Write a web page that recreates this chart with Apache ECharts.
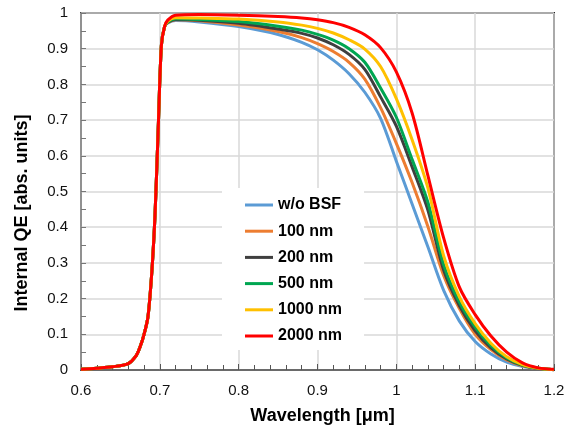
<!DOCTYPE html>
<html>
<head>
<meta charset="utf-8">
<script src="https://cdn.jsdelivr.net/npm/echarts@6/dist/echarts.min.js"></script>
<style>html,body{margin:0;padding:0;background:#fff;}#c{width:575px;height:428px;}</style>
</head>
<body>
<div id="c"></div>
<script>
const wavelength = [0.60, 0.62, 0.64, 0.66, 0.67, 0.675, 0.68, 0.685, 0.69, 0.694, 0.698, 0.702, 0.706,
  0.71, 0.72, 0.75, 0.80, 0.85, 0.88, 0.90, 0.92, 0.94, 0.96, 0.98, 1.00, 1.02, 1.04, 1.06, 1.08, 1.10, 1.12, 1.14, 1.16, 1.18, 1.20];
const riseEdge = [0.002, 0.005, 0.009, 0.018, 0.04, 0.065, 0.10, 0.15, 0.28, 0.44, 0.68, 0.91, 0.962];
const qeNoBSF = [0.972, 0.979, 0.975, 0.962, 0.940, 0.918, 0.897, 0.868, 0.830, 0.778, 0.705, 0.585, 0.465, 0.345, 0.223, 0.137, 0.080, 0.045, 0.022, 0.010, 0.004, 0.001];
const qe100 = [0.973, 0.981, 0.978, 0.966, 0.948, 0.931, 0.914, 0.892, 0.862, 0.815, 0.735, 0.635, 0.525, 0.402, 0.265, 0.172, 0.100, 0.057, 0.028, 0.012, 0.004, 0.001];
const qe200 = [0.974, 0.982, 0.980, 0.971, 0.955, 0.943, 0.930, 0.911, 0.884, 0.842, 0.765, 0.683, 0.569, 0.448, 0.280, 0.180, 0.110, 0.062, 0.031, 0.013, 0.004, 0.001];
const qe500 = [0.975, 0.984, 0.982, 0.976, 0.963, 0.952, 0.940, 0.924, 0.900, 0.862, 0.790, 0.708, 0.590, 0.470, 0.295, 0.190, 0.120, 0.068, 0.034, 0.014, 0.005, 0.001];
const qe1000 = [0.977, 0.987, 0.986, 0.983, 0.975, 0.966, 0.957, 0.944, 0.925, 0.899, 0.850, 0.760, 0.645, 0.510, 0.320, 0.205, 0.130, 0.075, 0.037, 0.015, 0.005, 0.001];
const qe2000 = [0.980, 0.994, 0.996, 0.994, 0.990, 0.986, 0.981, 0.973, 0.960, 0.939, 0.903, 0.835, 0.720, 0.545, 0.370, 0.232, 0.155, 0.095, 0.050, 0.020, 0.006, 0.002];
const seriesNames = ['w/o BSF', '100 nm', '200 nm', '500 nm', '1000 nm', '2000 nm'];
const seriesColors = ['#5B9BD5', '#ED7D31', '#3F3F3F', '#00A651', '#FFC000', '#FF0000'];
const seriesTails = [qeNoBSF, qe100, qe200, qe500, qe1000, qe2000];
const xTicks = [0.6, 0.7, 0.8, 0.9, 1, 1.1, 1.2];

const FONT = 'Liberation Sans, Arial, sans-serif';
const chart = echarts.init(document.getElementById('c'), null, {renderer: 'canvas'});

const series = seriesNames.map((name, i) => {
  const ys = riseEdge.concat(seriesTails[i]);
  return {
    name: name,
    type: 'line',
    data: wavelength.map((x, k) => [x, ys[k]]),
    symbol: 'none',
    smooth: 0.3,
    clip: true,
    lineStyle: {color: seriesColors[i], width: 3},
    itemStyle: {color: seriesColors[i]},
    z: 2 + i
  };
});

chart.setOption({
  animation: false,
  backgroundColor: '#fff',
  grid: {left: 81, right: 21, top: 13, bottom: 58, outerBoundsMode: 'none', containLabel: false,
    show: true, borderColor: '#222', borderWidth: 2, backgroundColor: 'transparent'},
  legend: {
    data: seriesNames,
    orient: 'vertical',
    left: 222, top: 188,
    padding: [9, 22, 6, 23],
    backgroundColor: '#fff',
    icon: 'rect',
    itemWidth: 28, itemHeight: 3, itemGap: 10.2,
    textStyle: {fontFamily: FONT, fontSize: 16, fontWeight: 'bold', color: '#000'},
    z: 10
  },
  xAxis: {
    type: 'value', min: 0.6, max: 1.2, interval: 0.1,
    axisLine: {show: true, lineStyle: {color: '#555', width: 1.5}},
    axisTick: {show: true, inside: true, length: 6, lineStyle: {color: '#555'}},
    minorTick: {show: true, splitNumber: 5, length: 5, lineStyle: {color: '#555'}},
    splitLine: {show: true, lineStyle: {color: '#d9d9d9', width: 1.5}},
    axisLabel: {margin: 13, fontFamily: FONT, fontSize: 15, color: '#111',
      formatter: v => { const t = xTicks.find(q => Math.abs(q - v) < 1e-6); return t === undefined ? '' : String(t); }},
    name: 'Wavelength [μm]', nameLocation: 'middle', nameGap: 37,
    nameTextStyle: {fontFamily: FONT, fontSize: 18, fontWeight: 'bold', color: '#000', padding: [0, 0, 0, 10]}
  },
  yAxis: {
    type: 'value', min: 0, max: 1, interval: 0.1,
    axisLine: {show: true, lineStyle: {color: '#888', width: 1.5}},
    axisTick: {show: true, inside: true, length: 5, lineStyle: {color: '#777'}},
    minorTick: {show: true, splitNumber: 2, length: 5, lineStyle: {color: '#777'}},
    splitLine: {show: true, lineStyle: {color: '#d9d9d9', width: 1.5}},
    axisLabel: {margin: 13, fontFamily: FONT, fontSize: 15, color: '#111',
      formatter: v => String(Math.round(v * 10) / 10)},
    name: 'Internal QE [abs. units]', nameLocation: 'middle', nameGap: 50,
    nameTextStyle: {fontFamily: FONT, fontSize: 18, fontWeight: 'bold', color: '#000', padding: [0, 43, 0, 0]}
  },
  series: series
});
</script>
</body>
</html>
